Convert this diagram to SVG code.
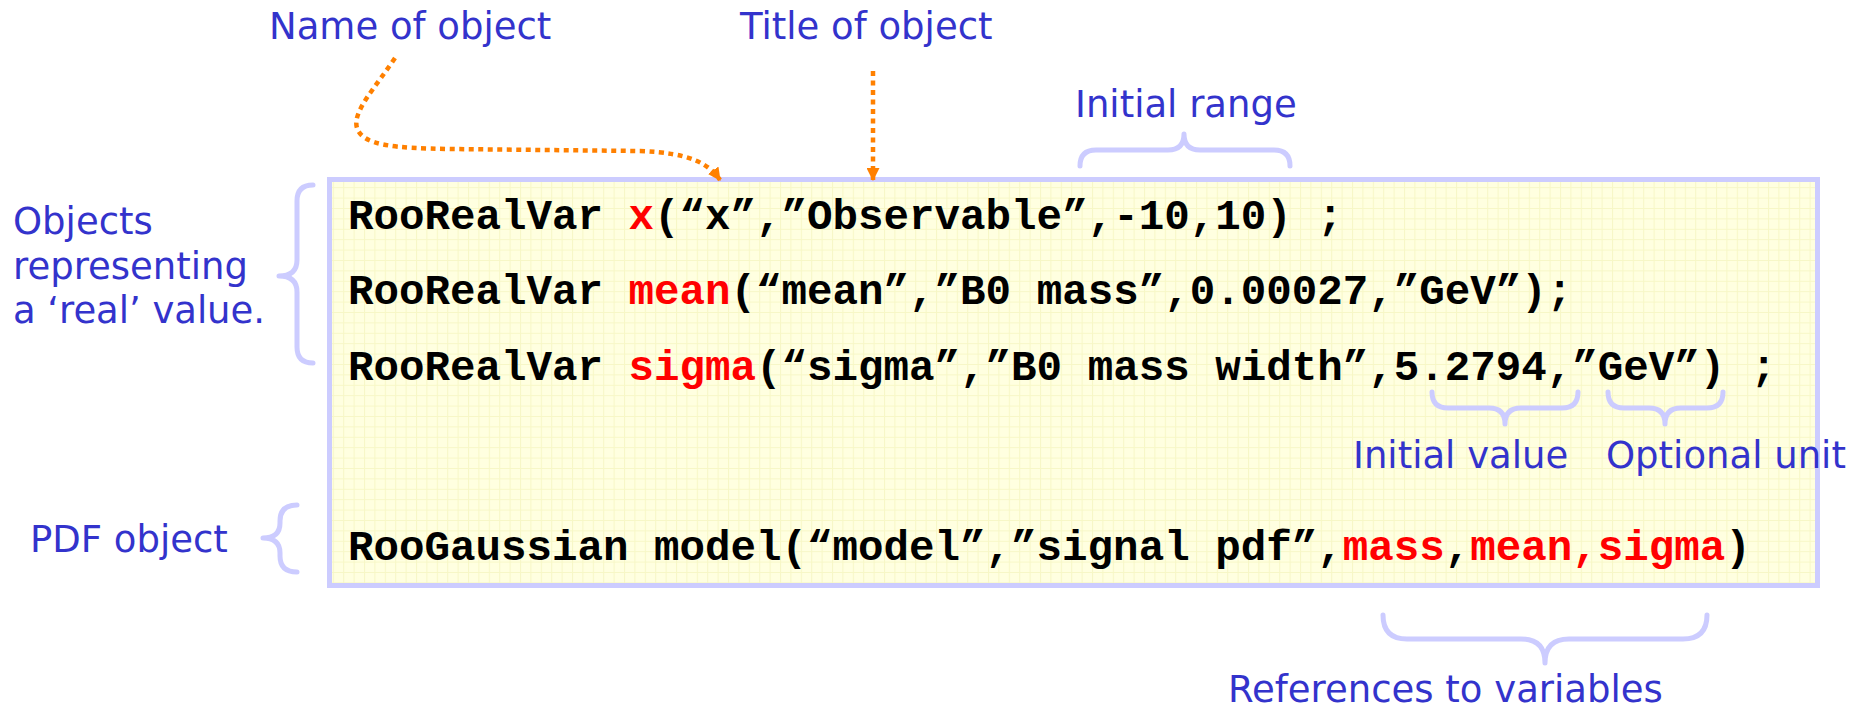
<svg xmlns="http://www.w3.org/2000/svg" width="1852" height="711" viewBox="0 0 1852 711">
  <style>
    .lbl { font-family: "DejaVu Sans", Verdana, sans-serif; font-size: 37px; fill: #3333cc; }
    .code { font-family: "Liberation Mono", "Courier New", monospace; font-weight: bold; font-size: 42.5px; fill: #000000; }
    .hl { fill: #ff0000; }
    .brace { fill: none; stroke: #ccccff; stroke-width: 5; stroke-linecap: round; stroke-linejoin: round; }
    .pointer { fill: none; stroke: #ff8000; stroke-width: 4.5; stroke-dasharray: 5 4.5; }
  </style>
  <defs>
    <pattern id="grid" width="10.4" height="10.4" patternUnits="userSpaceOnUse">
      <rect width="10.4" height="10.4" fill="#ffffe0"/>
      <path d="M0 0.5 H10.4 M0.5 0 V10.4" stroke="#f7f7c6" stroke-width="1"/>
    </pattern>
    <marker id="tip" viewBox="0 0 12 12" refX="11" refY="6" markerWidth="13" markerHeight="13" markerUnits="userSpaceOnUse" orient="auto">
      <path d="M0 0 L12 6 L0 12 Z" fill="#ff8000"/>
    </marker>
  </defs>

  <rect width="1852" height="711" fill="#ffffff"/>

  <!-- code listing box -->
  <g id="code-box">
    <rect x="329.5" y="179.5" width="1488" height="406" fill="url(#grid)" stroke="#ccccff" stroke-width="5"/>
    <text class="code" x="348" y="229" xml:space="preserve">RooRealVar <tspan class="hl">x</tspan>(“x”,”Observable”,-10,10) ;</text>
    <text class="code" x="348" y="304" xml:space="preserve">RooRealVar <tspan class="hl">mean</tspan>(“mean”,”B0 mass”,0.00027,”GeV”);</text>
    <text class="code" x="348" y="380" xml:space="preserve">RooRealVar <tspan class="hl">sigma</tspan>(“sigma”,”B0 mass width”,5.2794,”GeV”) ;</text>
    <text class="code" x="348" y="560" xml:space="preserve">RooGaussian model(“model”,”signal pdf”,<tspan class="hl">mass</tspan>,<tspan class="hl">mean,sigma</tspan>)</text>
  </g>

  <g id="label-name">
    <text class="lbl" x="269" y="39">Name of object</text>
  </g>
  <g id="label-title">
    <text class="lbl" x="740" y="39">Title of object</text>
  </g>
  <g id="label-range">
    <path class="brace" d="M1080 166 Q1080 150 1096 150 L1168 150 Q1184 150 1184 134 Q1184 150 1200 150 L1274 150 Q1290 150 1290 166"/>
    <text class="lbl" x="1075" y="117">Initial range</text>
  </g>
  <g id="label-objects">
    <path class="brace" d="M313 185 Q297 185 297 201 L297 260 Q297 276 279 276 Q297 276 297 292 L297 347 Q297 363 313 363"/>
    <text class="lbl" x="13" y="234">Objects</text>
    <text class="lbl" x="13" y="279">representing</text>
    <text class="lbl" x="13" y="323" textLength="252">a ‘real’ value.</text>
  </g>
  <g id="label-pdf">
    <path class="brace" d="M297 505 Q280 505 280 521 L280 523 Q280 538 263 538 Q280 538 280 553 L280 556 Q280 572 297 572"/>
    <text class="lbl" x="30" y="552">PDF object</text>
  </g>
  <g id="label-value">
    <path class="brace" d="M1432 392 Q1432 408 1448 408 L1489 408 Q1505 408 1505 424 Q1505 408 1521 408 L1562 408 Q1578 408 1578 392"/>
    <text class="lbl" x="1353" y="468">Initial value</text>
  </g>
  <g id="label-unit">
    <path class="brace" d="M1608 392 Q1608 408 1624 408 L1649 408 Q1665 408 1665 424 Q1665 408 1681 408 L1707 408 Q1723 408 1723 392"/>
    <text class="lbl" x="1606" y="468">Optional unit</text>
  </g>
  <g id="label-refs">
    <path class="brace" d="M1383 615 Q1383 639 1407 639 L1521 639 Q1545 639 1545 663 Q1545 639 1569 639 L1683 639 Q1707 639 1707 615"/>
    <text class="lbl" x="1228" y="702">References to variables</text>
  </g>

  <!-- dotted pointers from the top labels into the listing -->
  <g id="connectors">
    <path class="pointer" d="M395 58 C375 88 352 112 357 128 C363 146 395 148 450 149 L640 151 C690 153 708 163 720 180" marker-end="url(#tip)"/>
    <path class="pointer" d="M873 71 L873 180" marker-end="url(#tip)"/>
  </g>
</svg>
